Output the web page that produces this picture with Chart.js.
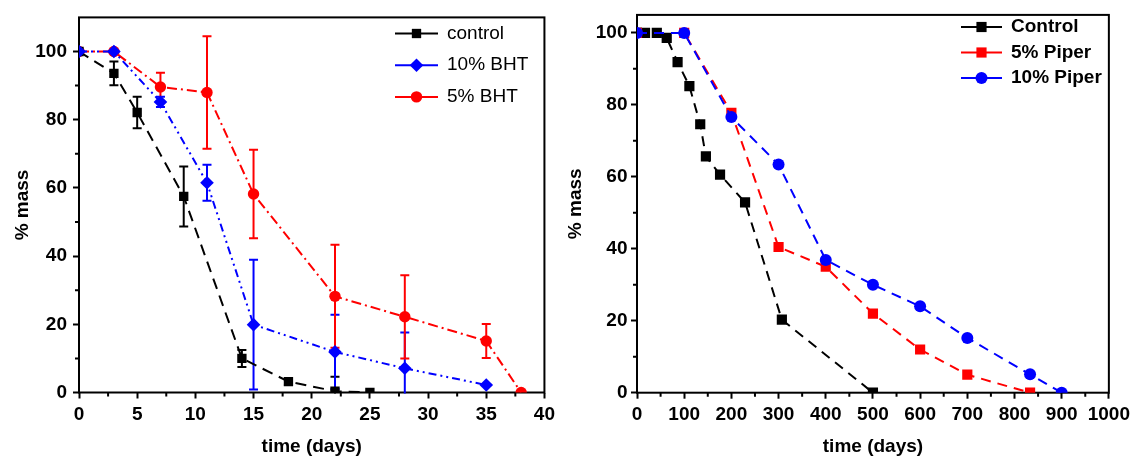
<!DOCTYPE html>
<html lang="en">
<head>
<meta charset="UTF-8" />
<title>Mass loss over time</title>
<script src="https://cdn.jsdelivr.net/npm/chart.js"></script>
<style>
  body { margin: 0; background: #fff; width: 1135px; height: 461px; overflow: hidden; }
  .panel { position: absolute; top: 0; }
  #left { left: 0; }
  #right { left: 560px; }
</style>
</head>
<body>
<div class="panel" id="left"><canvas id="bhtChart" width="560" height="461"></canvas></div>
<div class="panel" id="right"><canvas id="piperChart" width="575" height="461"></canvas></div>

<script>
// left panel: BHT samples, time in days
const controlDays = [0, 3, 5, 9, 14, 18, 22, 25];
const controlMass = [100, 93.6, 82.1, 57.5, 10, 3.2, 0.4, 0];
const controlErr  = [0, 3.5, 4.6, 8.8, 2.5, 1, 4.2, 0];

const bht10Days = [0, 3, 7, 11, 15, 22, 28, 35];
const bht10Mass = [100, 100, 85.2, 61.5, 19.9, 11.9, 7.1, 2.2];
const bht10Err  = [0, 0, 1.5, 5.3, 19, 10.9, 10.5, 0];

const bht5Days = [0, 3, 7, 11, 15, 22, 28, 35, 38];
const bht5Mass = [100, 100, 89.6, 88, 58.2, 28.2, 22.2, 15.1, 0];
const bht5Err  = [0, 0, 4.2, 16.5, 13, 15.1, 12.2, 5, 0];

// right panel: Piper samples
const pControlDays = [0, 17, 42, 63, 86, 111, 134, 146, 176, 229, 307, 500];
const pControlMass = [100, 100, 100, 98.6, 91.9, 85.2, 74.6, 65.7, 60.6, 52.9, 20.3, 0];
const piper5Days = [0, 100, 200, 300, 400, 500, 600, 700, 833];
const piper5Mass = [100, 100, 77.8, 40.5, 35, 22, 12, 5, 0];
const piper10Days = [0, 100, 200, 300, 400, 500, 600, 700, 833, 900];
const piper10Mass = [100, 100, 76.6, 63.4, 36.9, 30, 24, 15.2, 5.1, 0];

const FONT = "'Liberation Sans', Arial, sans-serif";

function pts(xs, ys) {
  return xs.map((x, i) => ({ x: x, y: ys[i] }));
}

function drawMarker(ctx, style, r, x, y, color) {
  ctx.fillStyle = color;
  ctx.beginPath();
  if (style === 'rect') {
    const s = r * Math.SQRT1_2;
    ctx.rect(x - s, y - s, 2 * s, 2 * s);
  } else if (style === 'rectRot') {
    ctx.moveTo(x, y - r);
    ctx.lineTo(x + r, y);
    ctx.lineTo(x, y + r);
    ctx.lineTo(x - r, y);
    ctx.closePath();
  } else {
    ctx.arc(x, y, r, 0, Math.PI * 2);
  }
  ctx.fill();
}

// box around the plot + short minor ticks
const framePlugin = {
  id: 'frame',
  beforeDatasetsDraw(chart, args, opts) {
    const { ctx, chartArea: a, scales } = chart;
    ctx.save();
    ctx.strokeStyle = '#000';
    ctx.lineWidth = 2;
    ctx.setLineDash([]);
    ctx.strokeRect(a.left, a.top, a.right - a.left, a.bottom - a.top);
    ctx.beginPath();
    const xs = scales.x, ys = scales.y;
    for (let v = xs.min; v <= xs.max; v += opts.xMinor) {
      if (Math.abs(v % opts.xMajor) < 1e-6) continue;
      const px = xs.getPixelForValue(v);
      ctx.moveTo(px, a.bottom);
      ctx.lineTo(px, a.bottom + 4);
    }
    for (let v = ys.min; v < ys.max; v += opts.yMinor) {
      if (Math.abs(v % opts.yMajor) < 1e-6) continue;
      const py = ys.getPixelForValue(v);
      ctx.moveTo(a.left, py);
      ctx.lineTo(a.left - 4, py);
    }
    ctx.stroke();
    ctx.restore();
  }
};

// vertical error bars, taken from dataset.errors
const errorBars = {
  id: 'errorBars',
  beforeDatasetsDraw(chart) {
    const { ctx, chartArea: a, scales } = chart;
    ctx.save();
    ctx.beginPath();
    ctx.rect(a.left, a.top, a.right - a.left, a.bottom - a.top + 1);
    ctx.clip();
    ctx.lineWidth = 2;
    ctx.setLineDash([]);
    chart.data.datasets.forEach(ds => {
      if (!ds.errors) return;
      ctx.strokeStyle = ds.borderColor;
      ds.data.forEach((p, i) => {
        const e = ds.errors[i];
        if (!e) return;
        const x = scales.x.getPixelForValue(p.x);
        const y1 = scales.y.getPixelForValue(p.y + e);
        const y2 = scales.y.getPixelForValue(p.y - e);
        ctx.beginPath();
        ctx.moveTo(x, y1); ctx.lineTo(x, y2);
        ctx.moveTo(x - 4.5, y1); ctx.lineTo(x + 4.5, y1);
        ctx.moveTo(x - 4.5, y2); ctx.lineTo(x + 4.5, y2);
        ctx.stroke();
      });
    });
    ctx.restore();
  }
};

// legend with line + marker, inside the plot
const lineLegend = {
  id: 'lineLegend',
  afterDraw(chart, args, opts) {
    const ctx = chart.ctx;
    ctx.save();
    ctx.setLineDash([]);
    chart.data.datasets.forEach((ds, i) => {
      const y = opts.top + i * opts.gap;
      ctx.strokeStyle = ds.borderColor;
      ctx.lineWidth = 2;
      ctx.beginPath();
      ctx.moveTo(opts.x, y);
      ctx.lineTo(opts.x + opts.len, y);
      ctx.stroke();
      drawMarker(ctx, ds.pointStyle, ds.pointRadius, opts.x + opts.len / 2, y, ds.borderColor);
      ctx.fillStyle = '#000';
      ctx.font = opts.font;
      ctx.textBaseline = 'middle';
      ctx.textAlign = 'left';
      ctx.fillText(ds.label, opts.textX, y);
    });
    ctx.restore();
  }
};

function axes(xMin, xMax, xStep, yMax, axisW, axisH, ytPad, yTitlePad) {
  const tickFont = { family: FONT, size: 19, weight: 'bold' };
  return {
    x: {
      type: 'linear', min: xMin, max: xMax,
      grid: { drawOnChartArea: false, tickLength: 6, tickWidth: 2, tickColor: '#000' },
      border: { display: false },
      ticks: {
        stepSize: xStep, color: '#000', font: tickFont, padding: 5,
        maxRotation: 0, autoSkip: false, includeBounds: false,
        callback: v => String(v)
      },
      title: { display: true, text: 'time (days)', color: '#000', font: tickFont, padding: { top: 0, bottom: 2.6 } },
      afterFit(s) { s.height = axisH; }
    },
    y: {
      min: 0, max: yMax,
      grid: { drawOnChartArea: false, tickLength: 6, tickWidth: 2, tickColor: '#000' },
      border: { display: false },
      ticks: { stepSize: 20, color: '#000', font: tickFont, padding: ytPad, includeBounds: false },
      title: { display: true, text: '% mass', color: '#000', font: tickFont, padding: { top: yTitlePad, bottom: 0 } },
      afterFit(s) { s.width = axisW; }
    }
  };
}

function series(label, xs, ys, color, style, radius, dash, order, errs) {
  return {
    label: label,
    data: pts(xs, ys),
    borderColor: color,
    backgroundColor: color,
    pointBackgroundColor: color,
    pointBorderColor: color,
    pointBorderWidth: 0,
    pointStyle: style,
    pointRadius: radius,
    borderWidth: 2,
    borderDash: dash,
    tension: 0,
    order: order,
    errors: errs
  };
}

new Chart(document.getElementById('bhtChart'), {
  type: 'line',
  data: {
    datasets: [
      series('control', controlDays, controlMass, '#000000', 'rect', 6.6, [11, 7], 1, controlErr),
      series('10% BHT', bht10Days, bht10Mass, '#0000ff', 'rectRot', 6.8, [8, 4, 2, 4, 2, 4], 0, bht10Err),
      series('5% BHT', bht5Days, bht5Mass, '#ff0000', 'circle', 5.7, [10, 4, 2, 4], 2, bht5Err)
    ]
  },
  options: {
    responsive: false,
    animation: false,
    layout: { padding: { top: 16, right: 14, left: 0, bottom: 0 } },
    scales: axes(0, 40, 5, 110, 79, 68.5, 6, 11),
    plugins: {
      legend: { display: false },
      tooltip: { enabled: false },
      frame: { xMajor: 5, xMinor: 2.5, yMajor: 20, yMinor: 10 },
      lineLegend: { x: 395, len: 43, textX: 447, top: 33.5, gap: 31.7, font: '19px ' + FONT }
    }
  },
  plugins: [framePlugin, errorBars, lineLegend]
});

new Chart(document.getElementById('piperChart'), {
  type: 'line',
  data: {
    datasets: [
      series('Control', pControlDays, pControlMass, '#000000', 'rect', 7.2, [10, 7], 2),
      series('5% Piper', piper5Days, piper5Mass, '#ff0000', 'rect', 7.2, [10, 7], 1),
      series('10% Piper', piper10Days, piper10Mass, '#0000ff', 'circle', 6, [10, 7], 0)
    ]
  },
  options: {
    responsive: false,
    animation: false,
    layout: { padding: { top: 9.3, right: 26, left: 0, bottom: 0 } },
    scales: axes(0, 1000, 100, 105, 77, 68.3, 3.5, 4.5),
    plugins: {
      legend: { display: false },
      tooltip: { enabled: false },
      frame: { xMajor: 100, xMinor: 50, yMajor: 20, yMinor: 10 },
      lineLegend: { x: 401, len: 41, textX: 451, top: 27, gap: 25.5, font: 'bold 19px ' + FONT }
    }
  },
  plugins: [framePlugin, errorBars, lineLegend]
});
</script>
</body>
</html>
